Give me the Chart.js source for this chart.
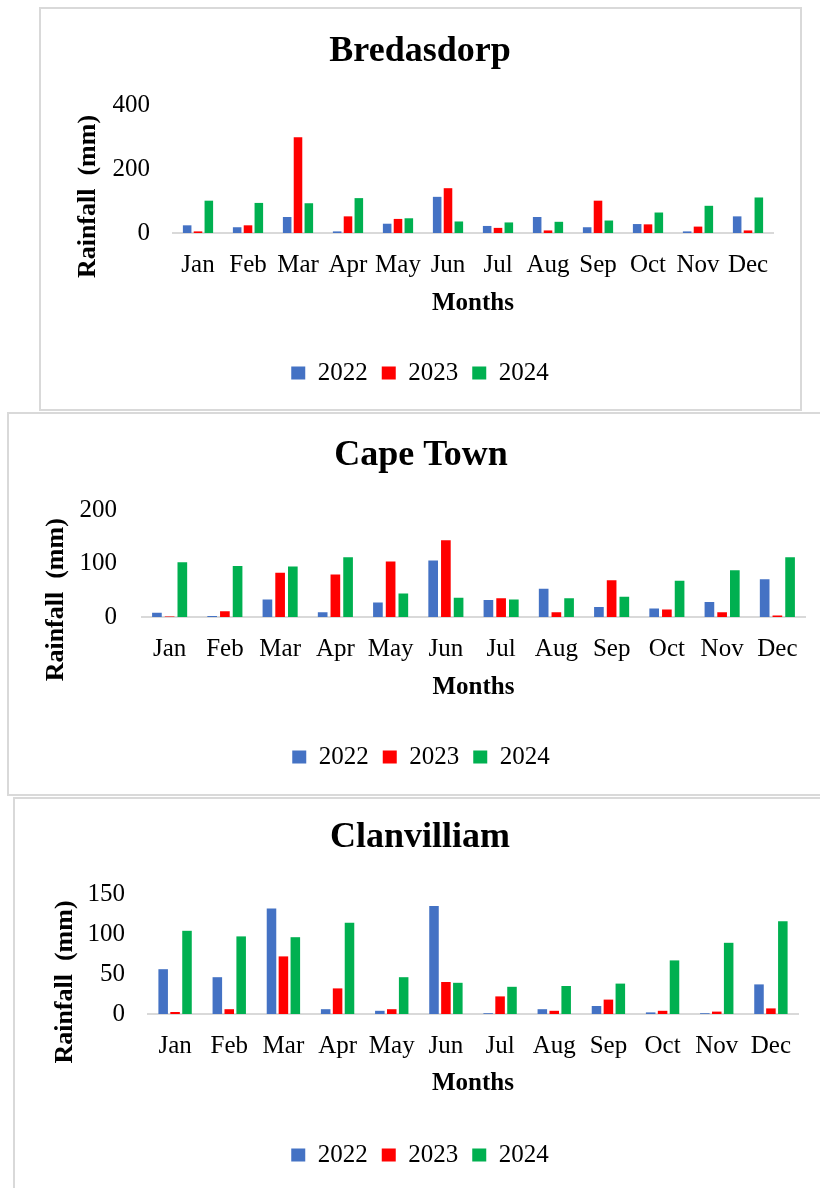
<!DOCTYPE html>
<html>
<head>
<meta charset="utf-8">
<script src="https://cdn.jsdelivr.net/npm/chart.js@4.4.1/dist/chart.umd.min.js"></script>
<style>
  html, body { margin: 0; padding: 0; background: #fff; width: 820px; height: 1188px; overflow: hidden; position: relative; }
  .panel { position: absolute; border: 2px solid #d9d9d9; background: #fff; box-sizing: border-box; }
  canvas { position: absolute; left: 0; }
</style>
</head>
<body>
<div class="panel" style="left:39px;top:7px;width:763px;height:404px"></div>
<div class="panel" style="left:7px;top:412px;width:830px;height:384px"></div>
<div class="panel" style="left:13px;top:797px;width:830px;height:420px"></div>
<canvas id="c1" width="820" height="402" style="top:8px"></canvas>
<canvas id="c2" width="820" height="383" style="top:412px"></canvas>
<canvas id="c3" width="820" height="391" style="top:797px"></canvas>
<script>
// Monthly rainfall (mm) for three Western Cape stations, 2022-2024
const months = ['Jan', 'Feb', 'Mar', 'Apr', 'May', 'Jun', 'Jul', 'Aug', 'Sep', 'Oct', 'Nov', 'Dec'];
const years = ['2022', '2023', '2024'];
const yearColors = ['#4472C4', '#FF0000', '#00B050'];

const bredasdorp2022 = [24, 18, 50, 5, 29, 113, 22, 50, 18, 28, 5, 52];
const bredasdorp2023 = [5, 24, 299, 52, 44, 140, 16, 8, 101, 27, 20, 8];
const bredasdorp2024 = [101, 94, 93, 109, 46, 36, 33, 35, 39, 64, 85, 111];

const capeTown2022 = [8, 2, 33, 9, 27, 106, 32, 53, 19, 16, 28, 71];
const capeTown2023 = [1, 11, 83, 80, 104, 144, 35, 9, 69, 14, 9, 3];
const capeTown2024 = [103, 96, 95, 112, 44, 36, 33, 35, 38, 68, 88, 112];

const clanwilliam2022 = [56, 46, 132, 6, 4, 135, 1, 6, 10, 2, 1, 37];
const clanwilliam2023 = [2.5, 6, 72, 32, 6, 40, 22, 4, 18, 4, 3, 7];
const clanwilliam2024 = [104, 97, 96, 114, 46, 39, 34, 35, 38, 67, 89, 116];

const bredasdorpTicks = [0, 200, 400];
const capeTownTicks = [0, 100, 200];
const clanwilliamTicks = [0, 50, 100, 150];

const yAxisTitle = 'Rainfall  (mm)';

Chart.defaults.font.family = '"Liberation Serif", "Times New Roman", serif';
Chart.defaults.color = '#000';

// Vertical axis title, drawn beside the y scale and set a little below the plot's middle
const offsetYTitle = {
  id: 'offsetYTitle',
  afterDraw(chart, args, opts) {
    const s = chart.scales.y;
    const area = chart.chartArea;
    const ctx = chart.ctx;
    ctx.save();
    ctx.font = 'bold 26px "Liberation Serif", "Times New Roman", serif';
    ctx.fillStyle = '#000';
    ctx.textAlign = 'center';
    ctx.textBaseline = 'middle';
    ctx.translate(s.left + opts.dx, (area.top + area.bottom) / 2 + opts.dy);
    ctx.rotate(-Math.PI / 2);
    ctx.fillText(opts.text, 0, 0);
    ctx.restore();
  }
};

function rainfallChart(id, title, series, ticks, lay) {
  const tickMax = ticks[ticks.length - 1];
  const step = ticks[1] - ticks[0];
  return new Chart(document.getElementById(id), {
    type: 'bar',
    data: {
      labels: months,
      datasets: series.map((values, i) => ({
        label: years[i],
        data: values,
        backgroundColor: yearColors[i],
        borderWidth: 0,
        categoryPercentage: lay.cp,
        barPercentage: lay.bp
      }))
    },
    plugins: [offsetYTitle],
    options: {
      responsive: false,
      animation: false,
      devicePixelRatio: 1,
      layout: { padding: { left: lay.padL, right: lay.padR, top: 0, bottom: lay.padB } },
      plugins: {
        title: {
          display: true,
          text: title,
          font: { size: 36, weight: 'bold' },
          color: '#000',
          padding: { top: lay.titleTop, bottom: lay.titleBottom }
        },
        legend: {
          position: 'bottom',
          labels: { boxWidth: 14, boxHeight: 13, padding: 14, font: { size: 25 }, color: '#000' }
        },
        tooltip: { enabled: false },
        offsetYTitle: { text: yAxisTitle, dx: lay.yTitleDx, dy: lay.yTitleDy }
      },
      scales: {
        x: {
          grid: { display: false, drawTicks: false },
          border: { display: true, color: '#d9d9d9', width: 2 },
          ticks: { font: { size: 25 }, padding: 17, maxRotation: 0, autoSkip: false },
          title: { display: true, text: 'Months', font: { size: 25, weight: 'bold' }, padding: { top: 0, bottom: lay.xTitlePad } },
          afterFit: s => { s.height = lay.xHeight; }
        },
        y: {
          min: 0,
          max: tickMax,
          grid: { display: false, drawTicks: false },
          border: { display: false },
          ticks: { stepSize: step, font: { size: 25 }, padding: lay.yTickPad },
          title: { display: false },
          afterFit: s => { s.width = lay.yWidth; }
        }
      }
    }
  });
}

rainfallChart('c1', 'Bredasdorp', [bredasdorp2022, bredasdorp2023, bredasdorp2024], bredasdorpTicks, {
  padL: 67, padR: 47, padB: 14.5, titleTop: 22.4, titleBottom: 31.4,
  yWidth: 106, yTickPad: 23, yTitleDx: 21, yTitleDy: 27.5, xHeight: 113.5, xTitlePad: 27.5, cp: 0.65, bp: 0.79
});
rainfallChart('c2', 'Cape Town', [capeTown2022, capeTown2023, capeTown2024], capeTownTicks, {
  padL: 37, padR: 15, padB: 15.5, titleTop: 22.4, titleBottom: 32.9,
  yWidth: 105, yTickPad: 25, yTitleDx: 19, yTitleDy: 36, xHeight: 113.5, xTitlePad: 27.5, cp: 0.69, bp: 0.76
});
rainfallChart('c3', 'Clanvilliam', [clanwilliam2022, clanwilliam2023, clanwilliam2024], clanwilliamTicks, {
  padL: 42, padR: 22, padB: 10.5, titleTop: 19.4, titleBottom: 34.4,
  yWidth: 106, yTickPad: 23, yTitleDx: 23, yTitleDy: 28, xHeight: 114.5, xTitlePad: 29.5, cp: 0.66, bp: 0.8
});
</script>
</body>
</html>
